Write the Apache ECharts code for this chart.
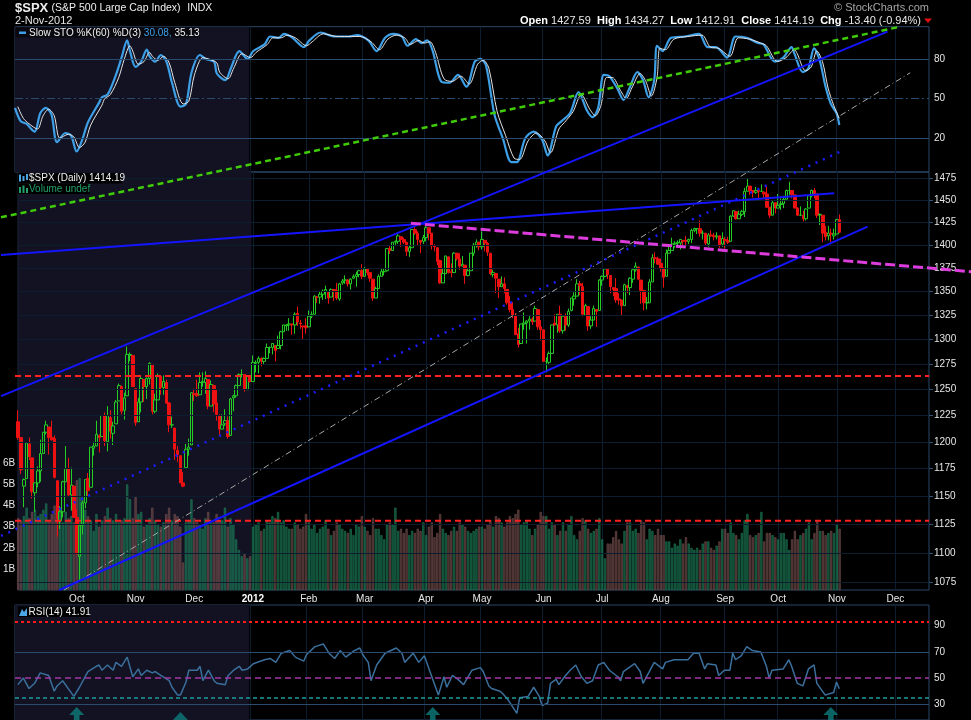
<!DOCTYPE html>
<html><head><meta charset="utf-8">
<script src="https://cdn.jsdelivr.net/npm/echarts@6/dist/echarts.min.js"></script>
<style>html,body{margin:0;padding:0;background:#000;}#c{width:971px;height:720px;}</style>
</head><body><div id="c"></div>
<script>
// ---- calendar (trading days shown on the axis) ----
const holidays = ['2011-09-05','2011-11-24','2011-12-26','2012-01-02','2012-01-16','2012-02-20','2012-04-06','2012-05-28','2012-07-04','2012-09-03','2012-10-29','2012-10-30','2012-11-22'];
const monthNames = ['Jan','Feb','Mar','Apr','May','Jun','Jul','Aug','Sep','Oct','Nov','Dec'];
const dates = [];
(function(){
  const d = new Date(Date.UTC(2011,8,1)), end = Date.UTC(2012,11,19);
  while (d.getTime() <= end) {
    const wd = d.getUTCDay(), s = d.toISOString().slice(0,10);
    if (wd !== 0 && wd !== 6 && holidays.indexOf(s) < 0) dates.push(s);
    d.setUTCDate(d.getUTCDate()+1);
  }
})();
const N = dates.length;

// ---- $SPX daily OHLC (Sep 2011 .. 2 Nov 2012) ----
const open = [
1219,1204,1159,1166,1198,1185,1153,1162,1173,1189,1209,1214,1204,1203,1164,1128,1136,1163,1175,1151,1159,
1131,1097,1124,1144,1166,1158,1194,1196,1206,1205,1225,1200,1223,1208,1217,1239,1253,1230,1244,1284,1284,
1251,1219,1238,1260,1253,1261,1275,1229,1240,1263,1252,1257,1237,1216,1213,1192,1187,1162,1176,1193,1197,
1246,1246,1245,1257,1257,1260,1234,1254,1237,1225,1212,1217,1220,1206,1242,1244,1254,1265,1265,1250,1263,
1258,1276,1277,1281,1278,1281,1292,1292,1294,1291,1294,1308,1314,1315,1316,1315,1327,1317,1314,1314,
1313,1324,1326,1344,1344,1347,1350,1349,1344,1352,1351,1342,1359,1362,1362,1358,1364,1366,1368,1372,
1366,1374,1370,1363,1343,1353,1366,1371,1372,1396,1394,1403,1404,1409,1406,1403,1393,1397,1417,1413,1405,1404,
1408,1419,1413,1399,1397,1383,1359,1369,1387,1371,1370,1391,1385,1377,1378,1367,1372,1391,1400,1403,
1398,1405,1402,1391,1368,1369,1363,1355,1358,1352,1338,1331,1325,1306,1296,1316,1317,1319,1321,1319,1331,1313,
1310,1278,1277,1286,1317,1315,1326,1309,1324,1315,1330,1342,1345,1358,1355,1325,1334,1314,1320,1331,1330,
1362,1366,1374,1367,1354,1353,1342,1341,1335,1356,1354,1363,1373,1376,1362,1351,1338,1338,1360,1386,1385,
1380,1375,1366,1391,1394,1401,1402,1402,1405,1405,1404,1406,1416,1418,1418,1413,1413,1401,1411,1410,1409,1410,1401,
1406,1405,1404,1432,1437,1429,1434,1437,1460,1466,1461,1459,1461,1460,1459,1457,1442,1433,1447,
1441,1445,1446,1451,1461,1461,1456,1441,1433,1433,1429,1441,1455,1461,1457,1433,1433,1414,1410,1413,1410,
1412,1428];
const high = [
1230,1204,1166,1199,1204,1185,1162,1177,1202,1209,1220,1214,1220,1206,1164,1141,1164,1196,1185,1176,1160,
1138,1125,1146,1165,1171,1195,1200,1220,1207,1225,1228,1234,1230,1219,1240,1256,1254,1247,1293,1287,1284,
1251,1242,1264,1260,1262,1277,1275,1246,1266,1264,1264,1260,1238,1224,1213,1196,1187,1172,1198,1203,1247,
1251,1260,1267,1267,1268,1260,1259,1255,1250,1226,1226,1231,1224,1242,1245,1255,1266,1270,1265,1264,1264,
1284,1279,1283,1282,1282,1296,1293,1296,1294,1304,1309,1315,1316,1322,1316,1328,1334,1320,1314,1322,
1330,1329,1346,1345,1350,1352,1356,1349,1353,1352,1359,1359,1363,1367,1363,1364,1368,1371,1373,1379,
1376,1374,1370,1363,1355,1368,1374,1374,1396,1399,1403,1405,1414,1409,1408,1403,1399,1417,1420,1415,1405,1411,
1422,1419,1413,1401,1397,1384,1374,1388,1387,1380,1392,1391,1391,1388,1378,1375,1391,1402,1406,1403,
1415,1405,1403,1391,1373,1369,1363,1366,1365,1352,1345,1339,1327,1312,1316,1328,1320,1324,1323,1335,1331,1320,
1310,1282,1288,1315,1326,1326,1335,1325,1327,1332,1343,1349,1363,1361,1359,1337,1334,1324,1335,1331,1363,
1367,1375,1375,1367,1354,1364,1348,1341,1358,1357,1365,1375,1381,1376,1362,1351,1344,1363,1390,1392,1387,
1385,1375,1395,1399,1408,1404,1405,1406,1405,1410,1407,1418,1419,1418,1427,1416,1413,1413,1416,1413,1414,1410,1414,
1409,1409,1433,1438,1438,1438,1439,1464,1475,1466,1461,1465,1461,1468,1460,1466,1442,1450,1447,
1457,1452,1455,1462,1471,1461,1456,1442,1443,1438,1441,1455,1462,1464,1457,1435,1433,1421,1421,1418,1418,
1429,1434];
const low = [
1202,1170,1140,1166,1183,1148,1136,1158,1163,1189,1207,1188,1201,1166,1114,1121,1131,1163,1150,1137,1131,
1099,1075,1116,1139,1150,1158,1187,1196,1190,1205,1196,1191,1203,1197,1217,1239,1226,1221,1244,1278,1253,
1215,1219,1228,1238,1241,1255,1226,1227,1240,1245,1245,1236,1209,1213,1183,1181,1162,1158,1176,1187,1197,
1239,1243,1245,1253,1246,1231,1234,1228,1220,1206,1212,1215,1203,1206,1229,1242,1254,1262,1248,1250,1257,
1258,1267,1266,1273,1275,1281,1286,1285,1278,1291,1290,1308,1309,1309,1305,1306,1314,1311,1300,1306,
1313,1322,1326,1338,1337,1341,1342,1337,1344,1340,1341,1340,1357,1358,1355,1352,1363,1355,1365,1363,
1366,1367,1360,1340,1343,1353,1366,1367,1371,1390,1394,1400,1401,1398,1401,1388,1387,1397,1411,1399,1391,1401,
1404,1405,1395,1393,1378,1358,1359,1369,1369,1365,1370,1383,1373,1377,1358,1366,1372,1388,1397,1394,
1395,1393,1388,1367,1365,1348,1343,1355,1348,1336,1328,1322,1305,1292,1296,1310,1296,1310,1315,1319,1310,1299,
1278,1267,1275,1286,1314,1307,1307,1306,1309,1313,1329,1335,1345,1346,1324,1325,1309,1311,1320,1313,1330,
1356,1365,1363,1348,1345,1338,1336,1325,1335,1348,1346,1359,1371,1362,1337,1330,1331,1338,1360,1380,1379,
1371,1354,1366,1391,1394,1397,1398,1395,1397,1400,1401,1402,1414,1412,1409,1406,1399,1398,1409,1405,1406,1397,1398,
1396,1401,1404,1431,1428,1429,1432,1431,1460,1456,1453,1457,1449,1460,1452,1441,1430,1433,1435,
1441,1439,1441,1451,1456,1452,1441,1432,1432,1426,1427,1441,1453,1452,1430,1422,1403,1405,1405,1403,1406,
1412,1413];
const close = [
1204,1174,1165,1199,1186,1154,1162,1173,1189,1209,1216,1204,1202,1167,1130,1136,1163,1175,1151,1160,1131,
1099,1124,1144,1165,1155,1195,1196,1207,1204,1225,1201,1225,1210,1215,1238,1254,1229,1242,1285,1285,1253,
1218,1238,1261,1253,1261,1276,1229,1240,1264,1252,1258,1237,1216,1216,1193,1188,1162,1159,1193,1195,1247,
1245,1244,1257,1258,1261,1234,1255,1236,1226,1212,1216,1220,1205,1241,1244,1254,1265,1265,1250,1263,1258,
1277,1277,1281,1278,1281,1292,1292,1296,1289,1294,1308,1315,1315,1316,1315,1326,1318,1316,1313,1312,
1324,1326,1345,1344,1347,1350,1352,1343,1352,1351,1343,1358,1361,1362,1358,1363,1366,1368,1372,1366,
1374,1370,1364,1343,1353,1366,1371,1371,1396,1394,1403,1404,1410,1406,1403,1393,1397,1417,1413,1406,1403,1408,
1419,1413,1399,1398,1382,1359,1369,1388,1370,1370,1391,1385,1377,1379,1367,1372,1391,1400,1403,1398,
1406,1402,1392,1369,1370,1364,1355,1358,1353,1338,1331,1325,1305,1295,1316,1317,1319,1321,1318,1332,1313,1310,
1278,1278,1286,1315,1315,1326,1309,1324,1315,1329,1343,1345,1358,1356,1326,1335,1314,1320,1332,1329,1362,
1366,1374,1368,1355,1352,1341,1341,1335,1357,1354,1364,1373,1377,1363,1351,1338,1338,1360,1386,1385,1379,
1375,1365,1391,1394,1401,1402,1403,1406,1404,1404,1406,1416,1418,1418,1413,1413,1402,1411,1410,1409,1410,1399,1407,
1405,1403,1432,1438,1429,1434,1437,1460,1466,1461,1459,1461,1460,1460,1457,1442,1433,1447,1441,
1444,1446,1451,1461,1461,1456,1441,1433,1433,1429,1440,1455,1461,1457,1433,1434,1413,1409,1413,1412,1412,
1428,1414];
// volume, billions
const volume = [
3.4,3.3,3.5,3.9,3.4,3.7,3.8,3.5,3.6,3.8,4.1,3.3,3.6,4.0,4.6,3.9,3.2,3.7,3.4,3.5,3.2,
5.2,5.3,4.4,3.8,3.5,3.3,2.8,3.6,3.0,3.3,3.5,3.9,3.4,3.3,3.6,3.2,3.3,3.4,5.0,4.3,3.4,
4.4,3.6,3.7,3.0,3.1,3.4,3.9,3.3,3.1,3.0,3.2,3.6,3.9,3.3,3.6,3.5,3.0,1.3,3.2,3.3,4.3,
3.4,3.2,3.1,2.9,3.4,3.7,3.2,3.2,3.6,3.3,3.3,3.9,3.0,3.4,3.1,2.4,1.9,1.6,1.7,1.5,1.6,
3.0,3.1,3.2,2.8,2.9,3.3,3.2,3.5,3.4,3.7,3.2,3.3,3.0,2.9,2.9,3.2,3.1,2.9,3.0,3.6,
3.2,2.9,3.1,2.7,2.9,3.0,3.3,2.9,2.6,2.8,3.2,3.1,2.9,2.8,2.7,2.9,2.6,3.1,3.0,3.5,
3.0,2.8,2.6,3.4,2.9,2.9,2.6,2.4,3.1,3.2,3.1,3.9,2.8,2.9,2.7,2.9,2.6,2.8,2.7,2.9,2.8,3.2,
2.6,3.0,3.2,2.5,2.7,3.6,2.9,2.7,2.6,2.8,3.0,2.8,3.2,3.1,3.0,2.8,2.7,2.8,2.9,3.0,
3.0,2.9,3.1,3.3,3.0,3.5,3.4,3.2,3.0,3.2,3.5,3.4,3.6,3.8,3.1,3.2,3.3,2.9,2.6,2.9,3.1,3.7,
3.5,3.5,2.9,3.2,3.1,2.6,2.8,3.2,2.8,3.1,3.5,2.6,2.4,2.8,3.4,3.3,2.9,2.7,2.8,2.9,3.4,
2.4,1.5,2.2,2.2,2.5,2.8,2.4,2.2,2.8,3.2,3.2,2.8,2.9,2.7,3.3,3.2,2.4,2.9,2.8,2.6,2.9,
2.6,2.6,2.3,2.3,2.0,2.2,2.1,2.4,2.2,2.5,2.2,2.0,1.9,2.0,1.9,2.2,2.3,2.3,2.0,1.9,2.1,2.3,2.9,
2.9,2.7,3.2,2.7,2.6,2.4,2.7,3.3,3.6,2.6,2.5,2.6,2.7,3.7,2.3,2.7,2.7,2.6,2.5,
2.4,2.7,2.7,2.4,1.9,2.4,2.8,2.4,2.6,2.7,2.9,3.2,2.4,2.7,3.3,2.8,2.8,2.6,2.7,2.8,2.7,
3.1,2.9];

// ---- Slow STO %K(60) / %D(3), read as [trading-day index, value] ----
const stoK = [[0,43],[2,33],[4,31],[7,25],[9,39],[11,43],[13,38],[15,17],[18,24],[20,22],[22,10],[24,19],[26,32],[30,47],[31,51],[33,53],[36,68],[38,81],[40,94],[41,86],[43,74],[45,78],[47,87],[48,82],[50,78],[52,83],[54,78],[56,62],[59,44],[61,46],[63,70],[66,83],[68,80],[71,78],[72,69],[75,64],[77,73],[80,86],[83,80],[85,86],[89,91],[91,97],[94,96],[96,99],[99,96],[103,89],[105,94],[109,100],[114,97],[119,97],[122,98],[126,94],[129,86],[132,96],[135,99],[138,97],[140,90],[143,95],[145,92],[147,94],[149,86],[152,63],[155,62],[158,68],[161,59],[164,78],[166,80],[168,75],[171,38],[174,20],[177,2],[179,2],[182,20],[185,25],[188,19],[190,7],[193,29],[195,33],[198,39],[201,55],[204,41],[206,36],[208,43],[210,68],[212,67],[215,57],[217,49],[219,57],[222,70],[224,64],[226,51],[228,64],[229,90],[231,86],[234,96],[239,97],[244,99],[247,89],[250,89],[254,81],[257,97],[261,96],[265,92],[267,91],[271,78],[274,81],[277,89],[278,84],[281,70],[283,73],[285,88],[287,79],[289,60],[291,46],[293,39],[294,30.08]];
const stoD = [[1,44],[3,35],[5,31],[8,27],[10,37],[12,42],[14,37],[16,20],[19,23],[21,21],[23,13],[25,17],[27,30],[31,45],[32,50],[34,53],[37,66],[39,80],[41,90],[42,86],[44,76],[46,78],[48,85],[49,82],[51,79],[53,82],[55,77],[57,62],[60,46],[62,48],[64,68],[67,81],[69,80],[72,77],[73,70],[76,65],[78,73],[81,84],[84,81],[86,85],[90,91],[92,96],[95,96],[97,98],[100,96],[104,90],[106,93],[110,99],[115,97],[120,97],[123,97],[127,93],[130,87],[133,95],[136,98],[139,96],[141,91],[144,94],[146,92],[148,93],[150,85],[153,65],[156,63],[159,67],[162,61],[165,76],[167,79],[169,73],[172,40],[175,22],[178,5],[180,4],[183,18],[186,24],[189,18],[191,9],[194,27],[196,32],[199,40],[202,53],[205,42],[207,37],[209,45],[211,66],[213,66],[216,56],[218,50],[220,58],[223,69],[225,63],[227,52],[229,66],[230,88],[232,87],[235,95],[240,97],[245,98],[248,89],[251,88],[255,82],[258,96],[262,95],[266,92],[268,90],[272,78],[275,81],[278,87],[279,84],[282,71],[284,74],[286,86],[288,78],[290,58],[292,45],[294,35.13]];
// ---- RSI(14) ----
const rsi = [[1,45],[3,50],[5,42],[7,46],[9,54],[12,52],[14,40],[15,44],[17,48],[19,42],[21,36],[23,43],[26,55],[29,59],[30,60],[31,56],[33,60],[35,56],[36,62],[38,59],[40,66],[42,51],[44,57],[45,52],[47,56],[49,54],[50,55],[52,52],[55,48],[56,43],[58,37],[59,37],[61,47],[62,56],[65,56],[66,59],[67,48],[69,56],[71,48],[72,46],[75,45],[76,52],[78,56],[80,59],[81,56],[83,57],[85,61],[89,64],[91,65],[93,62],[95,69],[98,71],[100,66],[103,63],[104,68],[107,74],[110,76],[112,69],[114,65],[116,71],[118,66],[121,71],[123,73],[124,68],[126,62],[127,48],[129,60],[132,69],[136,73],[138,69],[139,62],[142,69],[144,62],[146,67],[148,55],[151,37],[153,51],[154,43],[156,52],[158,49],[160,45],[163,56],[166,58],[167,55],[169,44],[170,42],[173,40],[174,38],[176,33],[179,23],[180,35],[183,36],[185,43],[187,36],[188,29],[190,31],[191,46],[193,49],[194,45],[196,51],[198,56],[200,60],[202,51],[204,46],[206,48],[208,60],[210,62],[212,56],[215,51],[216,48],[217,55],[221,61],[223,55],[224,46],[228,62],[231,57],[232,62],[235,64],[240,64],[242,69],[244,69],[246,57],[247,61],[250,60],[251,52],[253,56],[255,56],[256,69],[257,64],[259,67],[261,74],[263,71],[266,70],[268,59],[269,50],[270,56],[274,57],[276,64],[277,59],[279,46],[281,44],[283,57],[285,60],[286,46],[289,37],[292,39],[293,47],[294,41.91]];
const rsiArrows = [[22,20.3],[59,16.5],[149,20.3],[291,20.3]];

// ---- drawn annotations, [trading-day index, price] ----
const upperChannel = [[-5.0,1243.7],[311.2,1654.5]];
const lowerChannel = [[15.8,1068.5],[304.1,1420.2]];
const topLine = [[-5.0,1389.0],[292.2,1457.8]];
const midDotted = [[-5.0,1114.7],[295.6,1508.0]];
const grayDashDot = [[17.5,1068.5],[319.3,1602.1]];
const greenDashed = [[-5.0,1430.6],[315.2,1660.5]];
const magentaDashed = [[141.2,1424.0],[341.0,1371.0]];
const redLevels = [1263.5,1128.1];

// ---- axis ticks ----
const priceTicks = [1075,1100,1125,1150,1175,1200,1225,1250,1275,1300,1325,1350,1375,1400,1425,1450,1475];
const stoLevels = [20,50,80];
const stoMinorTicks = [-2.5,5,12.5,20,27.5,35,42.5,50,57.5,65,72.5,80,87.5,95,102.5];
const rsiMinorTicks = [20,25,30,35,40,45,50,55,60,65,70,75,80,85,90,95,100,105];
const shade2011 = [0,83.5];

// layout
const W = 971, GL = 15, GR = 42;
const band = (W - GL - GR) / (N - 1);
const TICK = 4 / band;
const PMIN = 1068.5, PMAX = 1482.3;

function isMonthStart(i){ return i > 0 && dates[i].slice(0,7) !== dates[i-1].slice(0,7); }
const UP = '#26cc26', DOWN = '#ee1111';
const candleData = close.map((c,i) => [open[i], c, low[i], high[i]]);
const volData = volume.map((v,i) => {
  const up = close[i] >= open[i];
  return {value: v, itemStyle: {color: up ? 'rgba(28,130,92,0.55)' : 'rgba(118,76,76,0.55)', borderColor: up ? '#1f7a56' : '#74504f', borderWidth: 0.6}};
});
const LBL = '#e6e6e6', LEVEL = '#2a4b6e', GRIDC = '#0c1d30', SHADE = '#121222', AXC = '#2f5274';
function catAxis(g, show){
  return {type:'category', gridIndex:g, data:dates, boundaryGap:false,
    axisLine:{show:false}, axisTick:{show:false},
    axisLabel: show ? {show:true, interval:(i)=>isMonthStart(i), color:LBL, fontSize:10, margin:4,
      formatter:(v)=>{const m=+v.slice(5,7); return m===1 ? '{y|'+v.slice(0,4)+'}' : monthNames[m-1];},
      rich:{y:{fontWeight:'bold', fontSize:10, color:'#ffffff'}}} : {show:false},
    splitLine:{show:true, interval:(i)=>isMonthStart(i), lineStyle:{color:GRIDC, width:1}}};
}
function valAxis(g){ return {type:'value', gridIndex:g, min:0, max:N-1, show:false}; }
function hiddenY(g, min, max){ return {type:'value', gridIndex:g, min:min, max:max, position:'right', axisLine:{show:false}, axisTick:{show:false}, axisLabel:{show:false}, splitLine:{show:false}}; }
function tickSegs(vals){ return vals.map(v => [{coord:[N-1, v], lineStyle:{color:AXC, width:1, type:'solid'}, label:{show:false}}, {coord:[N-1+TICK, v]}]); }
// annotation lines live on a full-width overlay grid that shares the price scale
function trend(pts, color, width, type){
  return {type:'line', xAxisIndex:6, yAxisIndex:4, data:pts, clip:false, symbol:'none', silent:true, z:8,
    lineStyle:{color:color, width:width, type:type}};
}
const labelEnd = {show:true, position:'end', formatter:(p)=>p.value, color:LBL, fontSize:10, distance:5};

const option = {
  backgroundColor:'#000', animation:false,
  textStyle:{fontFamily:'Liberation Sans, Arial, sans-serif'},
  grid:[
    {left:GL, right:GR, top:26.7, height:145.3, show:true, borderColor:'#2a4868', borderWidth:1},
    {left:GL, right:GR, top:172, height:418, show:true, borderColor:'#2a4868', borderWidth:1},
    {left:GL, right:GR, top:605, height:115, show:true, borderColor:'#2a4868', borderWidth:1},
    {left:0, right:0, top:172, height:418, show:false}
  ],
  xAxis:[catAxis(0,false), catAxis(1,true), catAxis(2,false), valAxis(0), valAxis(1), valAxis(2),
    {type:'value', gridIndex:3, min:-GL/band, max:(N-1)+GR/band, show:false}],
  yAxis:[
    hiddenY(0,-5.5,104.4),
    {type:'log', gridIndex:1, logBase:10, min:PMIN, max:PMAX, position:'right', axisLine:{show:false}, axisTick:{show:false}, axisLabel:{show:false}, splitLine:{show:false}},
    {type:'value', gridIndex:1, min:0, max:19.8, interval:1, position:'left', axisLine:{show:false}, axisTick:{show:false}, splitLine:{show:false},
      axisLabel:{show:true, margin:3, color:LBL, fontSize:10, formatter:(v)=>(v>=1 && v<=6) ? v+'B' : ''}},
    hiddenY(2,18,105.8),
    {type:'log', gridIndex:3, logBase:10, min:PMIN, max:PMAX, show:false}
  ],
  series:[
    // STO panel
    {type:'line', xAxisIndex:3, yAxisIndex:0, data:[], silent:true, clip:false,
      markArea:{silent:true, itemStyle:{color:SHADE}, data:[[{xAxis:shade2011[0]},{xAxis:shade2011[1]}]]},
      markLine:{silent:true, symbol:['none','none'], label:labelEnd,
        data: stoLevels.map(v => ({yAxis:v, lineStyle:{color:LEVEL, width:1, type: v===50 ? [8,3,2,3] : 'solid'}})).concat(tickSegs(stoMinorTicks))}},
    {type:'line', xAxisIndex:3, yAxisIndex:0, data:stoK, symbol:'none', smooth:0.3, z:3, lineStyle:{color:'#3d9fe6', width:2.2}},
    {type:'line', xAxisIndex:3, yAxisIndex:0, data:stoD, symbol:'none', smooth:0.3, z:4, lineStyle:{color:'#e4e4e4', width:1}},
    // price panel
    {type:'line', xAxisIndex:4, yAxisIndex:1, data:[], silent:true,
      markArea:{silent:true, itemStyle:{color:SHADE}, data:[[{xAxis:shade2011[0]},{xAxis:shade2011[1]}]]},
      markLine:{silent:true, symbol:['none','none'], label:labelEnd,
        data: priceTicks.map(v => ({yAxis:v, lineStyle:{color:GRIDC, width:1, type:'solid'}}))}},
    {type:'line', xAxisIndex:6, yAxisIndex:4, data:[], silent:true, clip:false,
      markLine:{silent:true, symbol:['none','none'], data: priceTicks.map(v => [{coord:[N-1, v], lineStyle:{color:AXC, width:1, type:'solid'}, label:{show:false}}, {coord:[N-1+TICK, v]}])}},
    {type:'bar', xAxisIndex:1, yAxisIndex:2, data:volData, barWidth:2.2, z:2, silent:true},
    {type:'candlestick', xAxisIndex:1, yAxisIndex:1, data:candleData, barWidth:3, z:3, silent:true,
      itemStyle:{color:'rgba(0,0,0,0)', color0:DOWN, borderColor:UP, borderColor0:DOWN, borderWidth:1}},
    trend([[0,redLevels[0]],[N-1,redLevels[0]]], '#ff2020', 2, [6,4]),
    trend([[0,redLevels[1]],[N-1,redLevels[1]]], '#ff2020', 2, [6,4]),
    trend(greenDashed, '#40cc08', 2.5, [6,4]),
    trend(grayDashDot, '#a8a8a8', 1, [6,3,1,3]),
    trend(midDotted, '#1c1cff', 2.5, [2,6]),
    trend(topLine, '#1414ff', 2, 'solid'),
    trend(upperChannel, '#1414ff', 2, 'solid'),
    trend(lowerChannel, '#1414ff', 2, 'solid'),
    trend(magentaDashed, '#dd3ddd', 3, [10,4]),
    // RSI panel
    {type:'line', xAxisIndex:5, yAxisIndex:3, data:[], silent:true, clip:false,
      markArea:{silent:true, itemStyle:{color:SHADE}, data:[[{xAxis:shade2011[0]},{xAxis:shade2011[1]}]]},
      markLine:{silent:true, symbol:['none','none'], label:labelEnd, data:[
        {yAxis:93, lineStyle:{color:'#ff1a1a', width:2, type:[3,3]}, label:{show:false}},
        {yAxis:90, lineStyle:{color:'rgba(0,0,0,0)', width:0}},
        {yAxis:70, lineStyle:{color:LEVEL, width:1, type:'solid'}},
        {yAxis:50, lineStyle:{color:'#a436a4', width:1.5, type:[6,4]}},
        {yAxis:35, lineStyle:{color:'#1f9a9a', width:1.5, type:[4,3]}, label:{show:false}},
        {yAxis:30, lineStyle:{color:LEVEL, width:1, type:'solid'}}
      ].concat(tickSegs(rsiMinorTicks))}},
    {type:'line', xAxisIndex:5, yAxisIndex:3, data:rsi, symbol:'none', z:4, lineStyle:{color:'#3b6f9c', width:1.5}},
    {type:'scatter', xAxisIndex:5, yAxisIndex:3, data:rsiArrows, clip:false, silent:true, z:5,
      symbol:'path://M8,0 L16,8 L11,8 L11,20 L5,20 L5,8 L0,8 Z', symbolSize:[15,20], itemStyle:{color:'#0e7c7c'}}
  ],
  graphic:[
    {type:'text', x:15, y:8, z:100, style:{text:'{a|$SPX} {b|(S&P 500 Large Cap Index)}  {b|INDX}', verticalAlign:'middle',
      rich:{a:{font:'bold 13px Liberation Sans', fill:'#eeeeee'}, b:{font:'10.5px Liberation Sans', fill:'#eeeeee'}}}},
    {type:'text', x:15, y:21, z:100, style:{text:'2-Nov-2012', font:'11px Liberation Sans', fill:'#e6e6e6', verticalAlign:'middle'}},
    {type:'text', x:929, y:8, z:100, style:{text:'\u00A9 StockCharts.com', font:'11px Liberation Sans', fill:'#a6a6a6', align:'right', verticalAlign:'middle'}},
    {type:'text', x:921, y:21, z:100, style:{text:'{l|Open} 1427.59  {l|High} 1434.27  {l|Low} 1412.91  {l|Close} 1414.19  {l|Chg} -13.40 (-0.94%)',
      font:'11px Liberation Sans', fill:'#e8e8e8', align:'right', verticalAlign:'middle',
      rich:{l:{font:'bold 11px Liberation Sans', fill:'#ffffff'}}}},
    {type:'polygon', z:100, shape:{points:[[924,18.5],[932,18.5],[928,23]]}, style:{fill:'#e01010'}},
    // STO legend
    {type:'rect', z:100, shape:{x:15.5, y:27.5, width:184, height:10}, style:{fill:'#08080e'}},
    {type:'rect', z:101, shape:{x:19, y:31.5, width:7, height:2.5}, style:{fill:'#3d9fe6'}},
    {type:'text', x:29, y:32.8, z:101, style:{text:'{w|Slow STO %K(60) %D(3) }{b|30.08,}{w| 35.13}', verticalAlign:'middle',
      rich:{w:{font:'10px Liberation Sans', fill:'#f0f0f0'}, b:{font:'10px Liberation Sans', fill:'#3d9fe6'}}}},
    // price legend
    {type:'rect', z:100, shape:{x:18, y:173, width:104, height:10.5}, style:{fill:'#000000'}},
    {type:'rect', z:101, shape:{x:19, y:174.5, width:2, height:7}, style:{fill:'#4aa8e8'}},
    {type:'rect', z:101, shape:{x:22.5, y:176, width:2, height:5}, style:{fill:'#4aa8e8'}},
    {type:'rect', z:101, shape:{x:26, y:174, width:2, height:6}, style:{fill:'#4aa8e8'}},
    {type:'text', x:29, y:178.5, z:101, style:{text:'$SPX (Daily) 1414.19', font:'10px Liberation Sans', fill:'#f0f0f0', verticalAlign:'middle'}},
    {type:'rect', z:100, shape:{x:18, y:184, width:72, height:10}, style:{fill:'#000000'}},
    {type:'rect', z:101, shape:{x:19, y:187, width:2, height:6}, style:{fill:'#22a06a'}},
    {type:'rect', z:101, shape:{x:22.5, y:185.5, width:2, height:7.5}, style:{fill:'#22a06a'}},
    {type:'rect', z:101, shape:{x:26, y:188, width:2, height:5}, style:{fill:'#22a06a'}},
    {type:'text', x:29, y:189, z:101, style:{text:'Volume undef', font:'10px Liberation Sans', fill:'#22a06a', verticalAlign:'middle'}},
    // RSI legend
    {type:'rect', z:100, shape:{x:18, y:606.5, width:71, height:10.5}, style:{fill:'#000000'}},
    {type:'polygon', z:101, shape:{points:[[19,616],[22,609],[24,612],[27,608],[27,616]]}, style:{fill:'#4aa8e8'}},
    {type:'text', x:28.5, y:612, z:101, style:{text:'RSI(14) 41.91', font:'10px Liberation Sans', fill:'#f0f0f0', verticalAlign:'middle'}}
  ]
};
const chart = echarts.init(document.getElementById('c'), null, {renderer:'canvas'});
chart.setOption(option);
</script>
</body></html>
